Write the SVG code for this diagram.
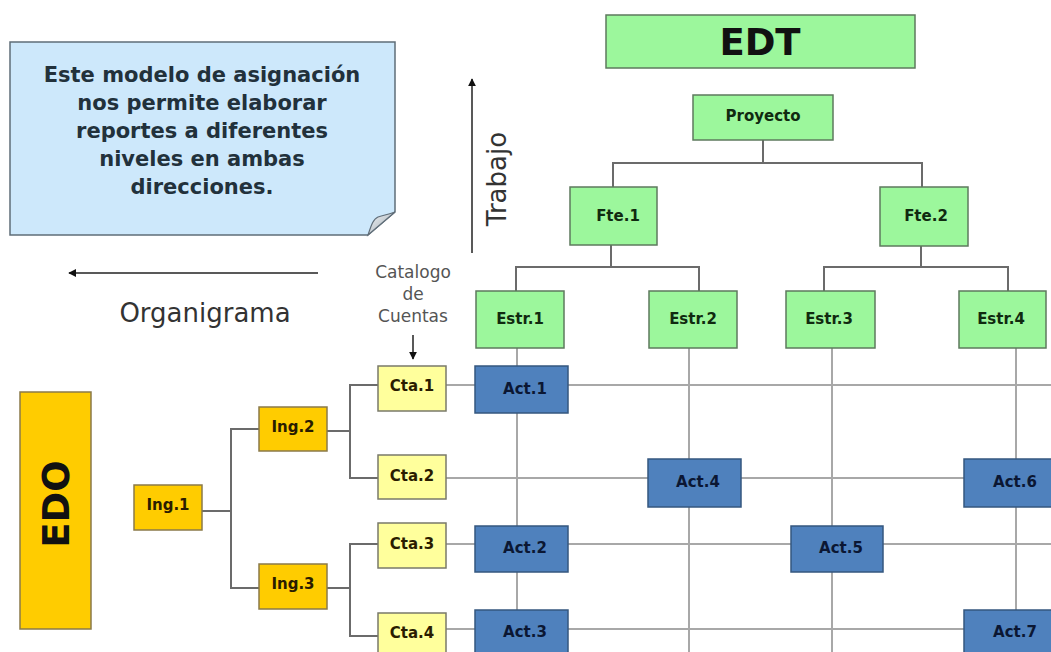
<svg xmlns="http://www.w3.org/2000/svg" width="1051" height="652" viewBox="0 0 1051 652">
  <defs>
    <marker id="arrow" viewBox="0 0 10 10" refX="9" refY="5" markerWidth="8" markerHeight="8" markerUnits="userSpaceOnUse" orient="auto">
      <path d="M0,0 L10,5 L0,10 Z" fill="#111"/>
    </marker>
    <linearGradient id="curl" x1="0" y1="0" x2="1" y2="1">
      <stop offset="0" stop-color="#f4f7f9"/>
      <stop offset="1" stop-color="#9aa4ac"/>
    </linearGradient>
  </defs>
  <style>
    .lbl { font-family: "DejaVu Sans", Verdana, sans-serif; font-weight: bold; font-size: 15px; text-anchor: middle; dominant-baseline: central; }
    .big { font-family: "DejaVu Sans", Verdana, sans-serif; font-weight: bold; font-size: 37px; text-anchor: middle; dominant-baseline: central; fill: #111; }
    .green { fill: #9cf79c; stroke: #5e7a5e; stroke-width: 1.5; }
    .gold { fill: #ffcc00; stroke: #8a7a4a; stroke-width: 1.5; }
    .pale { fill: #ffff9c; stroke: #7a7a6a; stroke-width: 1.5; }
    .blue { fill: #4f81bd; stroke: #35577f; stroke-width: 1.5; }
    .tg { fill: #102a10; }
    .ty { fill: #2a1c00; }
    .tb { fill: #0b1733; }
    .tree { fill: none; stroke: #6b6b6b; stroke-width: 2; }
    .grid { fill: none; stroke: #a8a8a8; stroke-width: 2; }
    .axis { fill: none; stroke: #222; stroke-width: 1.5; marker-end: url(#arrow); }
    .cap { font-family: "DejaVu Sans", Verdana, sans-serif; font-size: 26px; fill: #333; text-anchor: middle; }
    .small { font-family: "DejaVu Sans", Verdana, sans-serif; font-size: 17px; fill: #555; text-anchor: middle; }
    .note { font-family: "DejaVu Sans", Verdana, sans-serif; font-weight: bold; font-size: 21px; fill: #22313b; text-anchor: middle; }
  </style>

  <!-- explanatory note with curled corner -->
  <g id="note">
    <path d="M10,42 H395 V212 L368,235 H10 Z" fill="#cde8fb" stroke="#5f6d78" stroke-width="1.5"/>
    <path d="M395,212 L368,235 C371,226 373,219 378,217 C384,215 390,214 395,212 Z" fill="url(#curl)" stroke="#5f6d78" stroke-width="1.2"/>
    <text class="note" x="202" y="82">Este modelo de asignación</text>
    <text class="note" x="202" y="110">nos permite elaborar</text>
    <text class="note" x="202" y="138">reportes a diferentes</text>
    <text class="note" x="202" y="166">niveles en ambas</text>
    <text class="note" x="202" y="194">direcciones.</text>
  </g>

  <!-- direction captions -->
  <g id="axes">
    <line class="axis" x1="472" y1="253" x2="472" y2="79"/>
    <text class="cap" transform="translate(506,179) rotate(-90)">Trabajo</text>
    <line class="axis" x1="318" y1="273" x2="69" y2="273"/>
    <text class="cap" x="205" y="322">Organigrama</text>
    <text class="small" x="413" y="278">Catalogo</text>
    <text class="small" x="413" y="300">de</text>
    <text class="small" x="413" y="322">Cuentas</text>
    <line class="axis" x1="413" y1="335" x2="413" y2="359"/>
  </g>

  <!-- connectors: work breakdown tree, account tree and assignment grid -->
  <g id="connectors">
    <path class="tree" d="M763,140 V163 M613,187 V163 H922 V187"/>
    <path class="tree" d="M611,245 V267 M516,291 V267 H699 V291"/>
    <path class="tree" d="M921,246 V267 M824,291 V267 H1008 V291"/>
    <path class="tree" d="M202,511 H231 M259,429 H231 V588 H259"/>
    <path class="tree" d="M327,431 H350 M378,385 H350 V478 H378"/>
    <path class="tree" d="M327,588 H350 M378,544 H350 V636 H378"/>
    <path class="grid" d="M446,385 H1051 M446,478 H1051 M446,544 H1051 M446,629 H1051"/>
    <path class="grid" d="M517,348 V652 M689,348 V652 M832,348 V652 M1016,348 V652"/>
  </g>

  <!-- EDT: work breakdown structure -->
  <g id="edt">
    <rect class="green" x="606" y="15" width="309" height="53"/>
    <text class="big" x="760" y="42">EDT</text>
  </g>
  <g id="proyecto">
    <rect class="green" x="693" y="95" width="140" height="45"/>
    <text class="lbl tg" x="763" y="116">Proyecto</text>
  </g>
  <g id="fte1">
    <rect class="green" x="570" y="187" width="87" height="58"/>
    <text class="lbl tg" x="618" y="216">Fte.1</text>
  </g>
  <g id="fte2">
    <rect class="green" x="880" y="187" width="88" height="59"/>
    <text class="lbl tg" x="926" y="216">Fte.2</text>
  </g>
  <g id="estr1">
    <rect class="green" x="476" y="291" width="88" height="57"/>
    <text class="lbl tg" x="520" y="319">Estr.1</text>
  </g>
  <g id="estr2">
    <rect class="green" x="649" y="291" width="88" height="57"/>
    <text class="lbl tg" x="693" y="319">Estr.2</text>
  </g>
  <g id="estr3">
    <rect class="green" x="786" y="291" width="89" height="57"/>
    <text class="lbl tg" x="829" y="319">Estr.3</text>
  </g>
  <g id="estr4">
    <rect class="green" x="959" y="291" width="87" height="57"/>
    <text class="lbl tg" x="1001" y="319">Estr.4</text>
  </g>

  <!-- EDO: organisational structure -->
  <g id="edo">
    <rect class="gold" x="20" y="392" width="71" height="237"/>
    <text class="big" transform="translate(56,504) rotate(-90)">EDO</text>
  </g>
  <g id="ing1">
    <rect class="gold" x="134" y="485" width="68" height="45"/>
    <text class="lbl ty" x="168" y="505">Ing.1</text>
  </g>
  <g id="ing2">
    <rect class="gold" x="259" y="407" width="68" height="44"/>
    <text class="lbl ty" x="293" y="427">Ing.2</text>
  </g>
  <g id="ing3">
    <rect class="gold" x="259" y="564" width="68" height="45"/>
    <text class="lbl ty" x="293" y="584">Ing.3</text>
  </g>

  <!-- chart of accounts -->
  <g id="cta1">
    <rect class="pale" x="378" y="366" width="68" height="45"/>
    <text class="lbl ty" x="412" y="386">Cta.1</text>
  </g>
  <g id="cta2">
    <rect class="pale" x="378" y="455" width="68" height="44"/>
    <text class="lbl ty" x="412" y="476">Cta.2</text>
  </g>
  <g id="cta3">
    <rect class="pale" x="378" y="523" width="68" height="45"/>
    <text class="lbl ty" x="412" y="544">Cta.3</text>
  </g>
  <g id="cta4">
    <rect class="pale" x="378" y="613" width="68" height="45"/>
    <text class="lbl ty" x="412" y="633">Cta.4</text>
  </g>

  <!-- activities at the crossings -->
  <g id="act1">
    <rect class="blue" x="475" y="366" width="93" height="47"/>
    <text class="lbl tb" x="525" y="389">Act.1</text>
  </g>
  <g id="act2">
    <rect class="blue" x="475" y="526" width="93" height="46"/>
    <text class="lbl tb" x="525" y="548">Act.2</text>
  </g>
  <g id="act3">
    <rect class="blue" x="475" y="610" width="93" height="47"/>
    <text class="lbl tb" x="525" y="632">Act.3</text>
  </g>
  <g id="act4">
    <rect class="blue" x="648" y="459" width="93" height="48"/>
    <text class="lbl tb" x="698" y="482">Act.4</text>
  </g>
  <g id="act5">
    <rect class="blue" x="791" y="526" width="92" height="46"/>
    <text class="lbl tb" x="841" y="548">Act.5</text>
  </g>
  <g id="act6">
    <rect class="blue" x="964" y="459" width="93" height="48"/>
    <text class="lbl tb" x="1015" y="482">Act.6</text>
  </g>
  <g id="act7">
    <rect class="blue" x="964" y="610" width="93" height="47"/>
    <text class="lbl tb" x="1015" y="632">Act.7</text>
  </g>
</svg>
